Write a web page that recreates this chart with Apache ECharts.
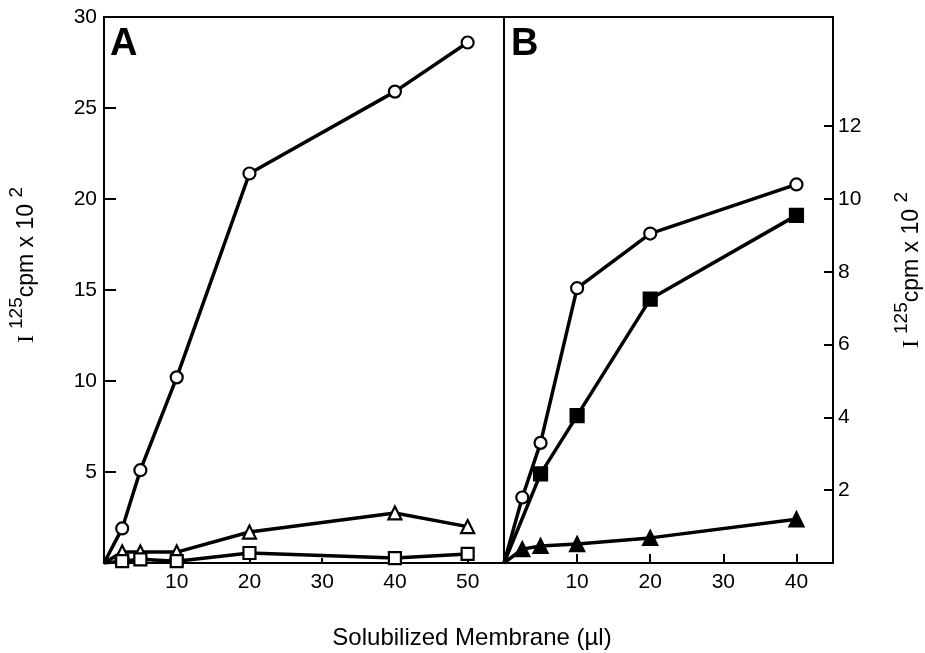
<!DOCTYPE html>
<html>
<head>
<meta charset="utf-8">
<script src="https://cdn.jsdelivr.net/npm/echarts@6/dist/echarts.min.js"></script>
<style>
html, body { margin: 0; padding: 0; background: #fff; }
#main { width: 925px; height: 653px; }
</style>
</head>
<body>
<div id="main"></div>
<script>
// panel A (left axis, x 0-55)
var aX = [0, 2.5, 5, 10, 20, 40, 50];
var aCircle = [0, 1.9, 5.1, 10.2, 21.4, 25.9, 28.6];
var aTriangle = [0, 0.6, 0.6, 0.6, 1.7, 2.75, 2.0];
var aSquare = [0, 0.1, 0.2, 0.1, 0.55, 0.27, 0.5];

// panel B (right axis, x 0-45)
var bX = [0, 2.5, 5, 10, 20, 40];
var bCircle = [0, 1.8, 3.3, 7.55, 9.05, 10.4];
var bTriangle = [0, 0.38, 0.47, 0.52, 0.69, 1.2];
var bSquareX = [0, 5, 10, 20, 40];
var bSquare = [0, 2.45, 4.05, 7.25, 9.55];

var aXTicks = [10, 20, 30, 40, 50];
var bXTicks = [10, 20, 30, 40];
var aYTicks = [5, 10, 15, 20, 25];
var aYLabels = [5, 10, 15, 20, 25, 30];
var bYTicks = [2, 4, 6, 8, 10, 12];

var FONT = '"Liberation Sans", Arial, sans-serif';

function pts(xs, ys) {
    var out = [];
    for (var i = 0; i < xs.length; i++) {
        if (xs[i] === 0) {
            out.push({value: [xs[i], ys[i]], symbol: 'none'});
        } else {
            out.push([xs[i], ys[i]]);
        }
    }
    return out;
}

function mkSeries(xs, ys, symbol, size, filled, xi, yi) {
    return {
        type: 'line',
        xAxisIndex: xi,
        yAxisIndex: yi,
        data: pts(xs, ys),
        symbol: symbol,
        symbolSize: size,
        showAllSymbol: true,
        animation: false,
        lineStyle: {color: '#000', width: 3.5},
        itemStyle: {
            color: filled ? '#000' : '#fff',
            borderColor: '#000',
            borderWidth: 2.2
        },
        z: 3
    };
}

// superscripts: small tokens pinned to the top of a tall line
var richTitle = {
    i: {fontFamily: '"Liberation Serif", serif', fontSize: 24, lineHeight: 40, color: '#000'},
    n: {fontFamily: FONT, fontSize: 23, lineHeight: 40, color: '#000'},
    s: {fontFamily: FONT, fontSize: 19, lineHeight: 19, verticalAlign: 'top', color: '#000'}
};
var titleText = '{i|I }{s|125}{n|cpm x 10 }{s|2}';

var myChart = echarts.init(document.getElementById('main'));

var option = {
    backgroundColor: '#fff',
    animation: false,
    grid: [
        {left: 104, top: 17, width: 400, height: 546, show: true, borderColor: '#000', borderWidth: 2, backgroundColor: 'transparent'},
        {left: 504, top: 17, width: 329, height: 546, show: true, borderColor: '#000', borderWidth: 2, backgroundColor: 'transparent'}
    ],
    xAxis: [
        {
            type: 'value', gridIndex: 0, min: 0, max: 55,
            splitLine: {show: false},
            axisLine: {onZero: false, lineStyle: {color: '#000', width: 2}},
            axisTick: {show: true, inside: true, length: 5, customValues: aXTicks, lineStyle: {color: '#000', width: 2}},
            axisLabel: {customValues: aXTicks, color: '#000', fontFamily: FONT, fontSize: 21, margin: 9}
        },
        {
            type: 'value', gridIndex: 1, min: 0, max: 45,
            splitLine: {show: false},
            axisLine: {onZero: false, lineStyle: {color: '#000', width: 2}},
            axisTick: {show: true, inside: true, length: 9, customValues: bXTicks, lineStyle: {color: '#000', width: 2}},
            axisLabel: {customValues: bXTicks, color: '#000', fontFamily: FONT, fontSize: 21, margin: 9}
        }
    ],
    yAxis: [
        {
            type: 'value', gridIndex: 0, min: 0, max: 30, position: 'left',
            splitLine: {show: false},
            axisLine: {show: true, onZero: false, lineStyle: {color: '#000', width: 2}},
            axisTick: {show: true, inside: true, length: 12, customValues: aYTicks, lineStyle: {color: '#000', width: 2}},
            axisLabel: {customValues: aYLabels, color: '#000', fontFamily: FONT, fontSize: 21, margin: 7}
        },
        {
            type: 'value', gridIndex: 1, min: 0, max: 15, position: 'right',
            splitLine: {show: false},
            axisLine: {show: true, onZero: false, lineStyle: {color: '#000', width: 2}},
            axisTick: {show: true, inside: true, length: 9, customValues: bYTicks, lineStyle: {color: '#000', width: 2}},
            axisLabel: {customValues: bYTicks, color: '#000', fontFamily: FONT, fontSize: 21, margin: 5}
        }
    ],
    graphic: [
        {type: 'text', x: 110, y: 26, style: {text: 'A', fontFamily: FONT, fontSize: 38, fontWeight: 'bold', fill: '#000'}},
        {type: 'text', x: 511, y: 26, style: {text: 'B', fontFamily: FONT, fontSize: 38, fontWeight: 'bold', fill: '#000'}},
        {type: 'text', x: 472, y: 638, style: {text: 'Solubilized Membrane (µl)', fontFamily: FONT, fontSize: 24, fill: '#000', align: 'center', verticalAlign: 'middle'}},
        {type: 'text', x: 27, y: 265, rotation: Math.PI / 2, style: {text: titleText, rich: richTitle, align: 'center', verticalAlign: 'middle'}},
        {type: 'text', x: 912, y: 270, rotation: Math.PI / 2, style: {text: titleText, rich: richTitle, align: 'center', verticalAlign: 'middle'}}
    ],
    series: [
        mkSeries(aX, aCircle, 'circle', 12, false, 0, 0),
        mkSeries(aX, aTriangle, 'triangle', 13, false, 0, 0),
        mkSeries(aX, aSquare, 'rect', 12, false, 0, 0),
        mkSeries(bX, bCircle, 'circle', 12, false, 1, 1),
        mkSeries(bSquareX, bSquare, 'rect', 13, true, 1, 1),
        mkSeries(bX, bTriangle, 'triangle', 14, true, 1, 1)
    ]
};

myChart.setOption(option);
</script>
</body>
</html>
